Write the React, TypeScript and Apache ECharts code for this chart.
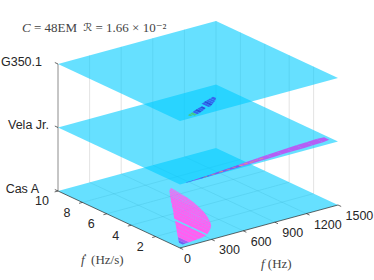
import React, { useEffect, useRef } from "react";
import * as echarts from "echarts";

// ---- axes / labels
const sourceNames = ["Cas A", "Vela Jr.", "G350.1"];
const fTicks = [0, 300, 600, 900, 1200, 1500];
const fdotTicks = [2, 4, 6, 8, 10];
const fMax = 1500;
const fdotMax = 10;
const titleText = "{i|C} = 48EM  {s|ℛ} = 1.66 × 10⁻²";
const fLabel = "{i|f} (Hz)";
const fdotLabel = "{i|ḟ}  (Hz/s)";

// ---- Cas A outliers: pairs of entries bound one frequency band
const casF = [60, 90, 90, 128, 128, 175, 175, 226, 226, 272, 272, 320, 340, 390, 390, 424, 424, 458, 460, 486, 486, 513, 515, 540, 540, 562, 564, 586, 586, 606, 608, 627, 629, 647, 650, 668, 672, 690, 694, 706, 708, 716];
const casLo = [0.3, 0.33, 0.33, 0.36, 0.36, 0.4, 0.4, 0.45, 0.45, 0.5, 0.5, 0.62, 0.7, 0.98, 0.98, 1.18, 1.18, 1.42, 1.42, 1.65, 1.65, 1.95, 1.95, 2.3, 2.3, 2.6, 2.6, 2.95, 2.95, 3.3, 3.3, 3.7, 3.7, 4.2, 4.2, 4.7, 4.7, 5.4, 5.4, 6.2, 6.2, 6.8];
const casHi = [0.6, 0.9, 0.9, 1.28, 1.28, 1.75, 1.75, 2.25, 2.25, 2.7, 2.7, 3.17, 3.4, 3.9, 3.9, 4.2, 4.2, 4.55, 4.55, 4.85, 4.85, 5.1, 5.1, 5.4, 5.4, 5.6, 5.6, 5.85, 5.85, 6.05, 6.05, 6.25, 6.25, 6.45, 6.45, 6.65, 6.65, 6.8, 6.8, 6.87, 6.87, 6.92];
const casKind = [2, 1, 0, 0, 0, 0, 0, 0, 0, 0, 0, 0, 0, 0, 0, 0, 0, 0, 0, 0, 0];

// ---- Vela Jr. outliers: a continuous thin band
const velaF = [60, 130, 200, 290, 400, 500, 600, 700, 800, 900, 1000, 1100, 1200, 1300, 1400, 1470];
const velaLo = [0.01, 0.01, 0.02, 0.04, 0.07, 0.1, 0.14, 0.17, 0.2, 0.23, 0.26, 0.28, 0.3, 0.33, 0.36, 0.46];
const velaHi = [0.04, 0.07, 0.12, 0.17, 0.26, 0.34, 0.42, 0.5, 0.58, 0.66, 0.72, 0.78, 0.84, 0.88, 0.92, 0.88];
const velaKind = [2, 1, 2, 1, 1, 1, 0, 0, 0, 0, 0, 0, 0, 0, 0];
const velaHotF = [250, 330, 410, 480, 545, 610, 665, 720, 770, 820];
const velaHotFd = [0.08, 0.12, 0.17, 0.2, 0.26, 0.27, 0.34, 0.33, 0.4, 0.4];

// ---- G350.1 outliers: pairs of entries bound one frequency band
const gF = [122, 150, 155, 185, 190, 220, 224, 255, 258, 288, 292, 320, 350, 380, 382, 410, 413, 440, 444, 470, 474, 510];
const gLo = [0.22, 0.25, 0.15, 0.2, 0.22, 0.3, 0.3, 0.42, 0.42, 0.52, 0.54, 0.66, 0.68, 0.74, 0.76, 0.88, 0.9, 1.02, 1.04, 1.18, 1.2, 1.45];
const gHi = [0.4, 0.5, 0.5, 0.6, 0.6, 0.72, 0.72, 0.82, 0.82, 0.9, 0.9, 0.96, 1.26, 1.34, 1.36, 1.44, 1.44, 1.52, 1.54, 1.6, 1.6, 1.7];
const gKind = [3, 3, 2, 4, 2, 4, 2, 4, 2, 2, 2];

// ---- projection of the box
const FRONT = [180, 248];
const RIGHT = [338, 205];
const LEFT = [58, 191];
const LEVEL = 63.5;
function project(f: number, fd: number, level: number) {
  const a = f / fMax;
  const b = fd / fdotMax;
  return [
    FRONT[0] + a * (RIGHT[0] - FRONT[0]) + b * (LEFT[0] - FRONT[0]),
    FRONT[1] + a * (RIGHT[1] - FRONT[1]) + b * (LEFT[1] - FRONT[1]) - level * LEVEL,
  ];
}

const INK = "#262626";
const GRID = "rgba(38,38,38,0.13)";
const PLANE = "rgba(0,203,255,0.6)";
const KIND_CAS = ["#ff5ff2", "#a85cf5", "#6a60f0"];
const KIND_VELA = ["#b45ff5", "#7a5cf0", "#3f62ee"];
const KIND_G = ["", "", "#3565ee", "#46c88a", "#2a50dc"];
const SANS = "'Liberation Sans', Arial, sans-serif";
const SERIF = "'Liberation Serif', 'DejaVu Serif', serif";

type Shape = { type: "polygon" | "line" | "text"; pts?: number[][]; color?: string; width?: number; text?: string; at?: number[]; align?: string; font?: string; size?: number; rich?: any };

function layer(shapes: Shape[]) {
  return {
    type: "custom",
    coordinateSystem: "cartesian2d",
    xAxisIndex: 0,
    yAxisIndex: 0,
    silent: true,
    clip: false,
    data: shapes.map((_, i) => [0, i % 280]),
    renderItem: (params: any, api: any) => {
      const s = shapes[params.dataIndex];
      if (s.type === "text") {
        const p = api.coord(s.at);
        return {
          type: "text",
          style: {
            x: p[0],
            y: p[1],
            text: s.text,
            fill: s.color || INK,
            fontFamily: s.font || SANS,
            fontSize: s.size || 12.5,
            align: s.align || "center",
            verticalAlign: "middle",
            rich: s.rich,
          },
        };
      }
      const points = (s.pts as number[][]).map((q) => api.coord(q));
      if (s.type === "polygon") {
        return { type: "polygon", shape: { points }, style: { fill: s.color, stroke: "none" } };
      }
      return {
        type: "polyline",
        shape: { points },
        style: { fill: "none", stroke: s.color, lineWidth: s.width || 1 },
      };
    },
  };
}

function planePolygon(level: number): Shape {
  return {
    type: "polygon",
    color: PLANE,
    pts: [project(0, 0, level), project(fMax, 0, level), project(fMax, fdotMax, level), project(0, fdotMax, level)],
  };
}

function bands(f: number[], lo: number[], hi: number[], level: number, colorOf: (i: number) => string): Shape[] {
  const out: Shape[] = [];
  for (let i = 0; i + 1 < f.length; i += 2) {
    out.push({
      type: "polygon",
      color: colorOf(i / 2),
      pts: [project(f[i], lo[i], level), project(f[i + 1], lo[i + 1], level), project(f[i + 1], hi[i + 1], level), project(f[i], hi[i], level)],
    });
  }
  return out;
}

function buildOption() {
  const grid: Shape[] = [];
  fTicks.slice(1).forEach((t) => {
    grid.push({ type: "line", color: GRID, width: 1, pts: [project(t, fdotMax, 0), project(t, fdotMax, 2)] });
    if (t < fMax) grid.push({ type: "line", color: GRID, width: 1, pts: [project(t, 0, 0), project(t, fdotMax, 0)] });
  });
  fdotTicks.slice(0, -1).forEach((t) => {
    grid.push({ type: "line", color: GRID, width: 1, pts: [project(fMax, t, 0), project(fMax, t, 2)] });
    grid.push({ type: "line", color: GRID, width: 1, pts: [project(0, t, 0), project(fMax, t, 0)] });
  });
  grid.push({ type: "line", color: "#8c8c8c", width: 1, pts: [project(0, fdotMax, 0), project(0, fdotMax, 2)] });

  const planes = sourceNames.map((_, l) => planePolygon(l));

  const marks: Shape[] = [
    ...bands(casF, casLo, casHi, 0, (i) => KIND_CAS[casKind[i]]),
    ...velaF.slice(0, -1).map((f, i): Shape => ({
      type: "polygon",
      color: KIND_VELA[velaKind[i]],
      pts: [project(f, velaLo[i], 1), project(velaF[i + 1], velaLo[i + 1], 1), project(velaF[i + 1], velaHi[i + 1], 1), project(f, velaHi[i], 1)],
    })),
    ...velaHotF.map((f, i): Shape => ({
      type: "polygon",
      color: "#e8a860",
      pts: [project(f - 18, velaHotFd[i] - 0.03, 1), project(f + 18, velaHotFd[i] - 0.03, 1), project(f + 18, velaHotFd[i] + 0.03, 1), project(f - 18, velaHotFd[i] + 0.03, 1)],
    })),
    ...bands(gF, gLo, gHi, 2, (i) => KIND_G[gKind[i]]),
  ];

  const axes: Shape[] = [
    { type: "line", color: INK, width: 0.7, pts: [project(0, fdotMax, 0), project(0, 0, 0), project(fMax, 0, 0)] },
  ];
  const fdUnit = [(FRONT[0] - LEFT[0]) / 135, (FRONT[1] - LEFT[1]) / 135];
  const fUnit = [(FRONT[0] - RIGHT[0]) / 164, (FRONT[1] - RIGHT[1]) / 164];
  fTicks.forEach((t) => {
    const p = project(t, 0, 0);
    axes.push({ type: "line", color: INK, width: 0.7, pts: [p, [p[0] + 3.5 * fdUnit[0], p[1] + 3.5 * fdUnit[1]]] });
    axes.push({ type: "text", text: String(t), at: [p[0] + (t === 0 ? 4 : 7.5), p[1] + 11], align: "left" });
  });
  fdotTicks.forEach((t) => {
    const p = project(0, t, 0);
    axes.push({ type: "line", color: INK, width: 0.7, pts: [p, [p[0] + 3.5 * fUnit[0], p[1] + 3.5 * fUnit[1]]] });
    axes.push({ type: "text", text: String(t), at: [p[0] + (t === 10 ? -9 : -12), p[1] + 10.3], align: "right" });
  });
  const zRight = [39, 49, 42];
  sourceNames.forEach((name, l) => {
    const p = project(0, fdotMax, l);
    axes.push({ type: "line", color: INK, width: 0.7, pts: [p, [p[0] - 3.5 * fdUnit[0], p[1] - 3.5 * fdUnit[1]]] });
    axes.push({ type: "text", text: name, at: [zRight[l], p[1] - 2.5], align: "right" });
  });
  const TEXT = "#444";
  const serifRich = {
    i: { fontFamily: SERIF, fontSize: 13, fontStyle: "italic", fill: TEXT },
    s: { fontFamily: "'DejaVu Sans', serif", fontSize: 11, fill: TEXT },
  };
  axes.push({ type: "text", text: titleText, at: [22, 27], align: "left", font: SERIF, size: 13, color: TEXT, rich: serifRich });
  axes.push({ type: "text", text: fdotLabel, at: [81, 259], align: "left", font: SERIF, size: 13, color: TEXT, rich: serifRich });
  axes.push({ type: "text", text: fLabel, at: [261, 263], align: "left", font: SERIF, size: 13, color: TEXT, rich: serifRich });

  return {
    animation: false,
    backgroundColor: "#ffffff",
    grid: { left: 0, right: 0, top: 0, bottom: 0 },
    xAxis: { type: "value", min: 0, max: 374, show: false },
    yAxis: { type: "value", min: 0, max: 280, inverse: true, show: false },
    series: [layer(grid), layer(planes), layer(marks), layer(axes)],
  };
}

export default function App() {
  const ref = useRef<HTMLDivElement>(null);
  useEffect(() => {
    const chart = echarts.init(ref.current as HTMLDivElement, undefined, { renderer: "svg" });
    chart.setOption(buildOption() as any);
    return () => chart.dispose();
  }, []);
  return <div ref={ref} style={{ position: "fixed", left: 0, top: 0, width: 374, height: 280 }} />;
}
